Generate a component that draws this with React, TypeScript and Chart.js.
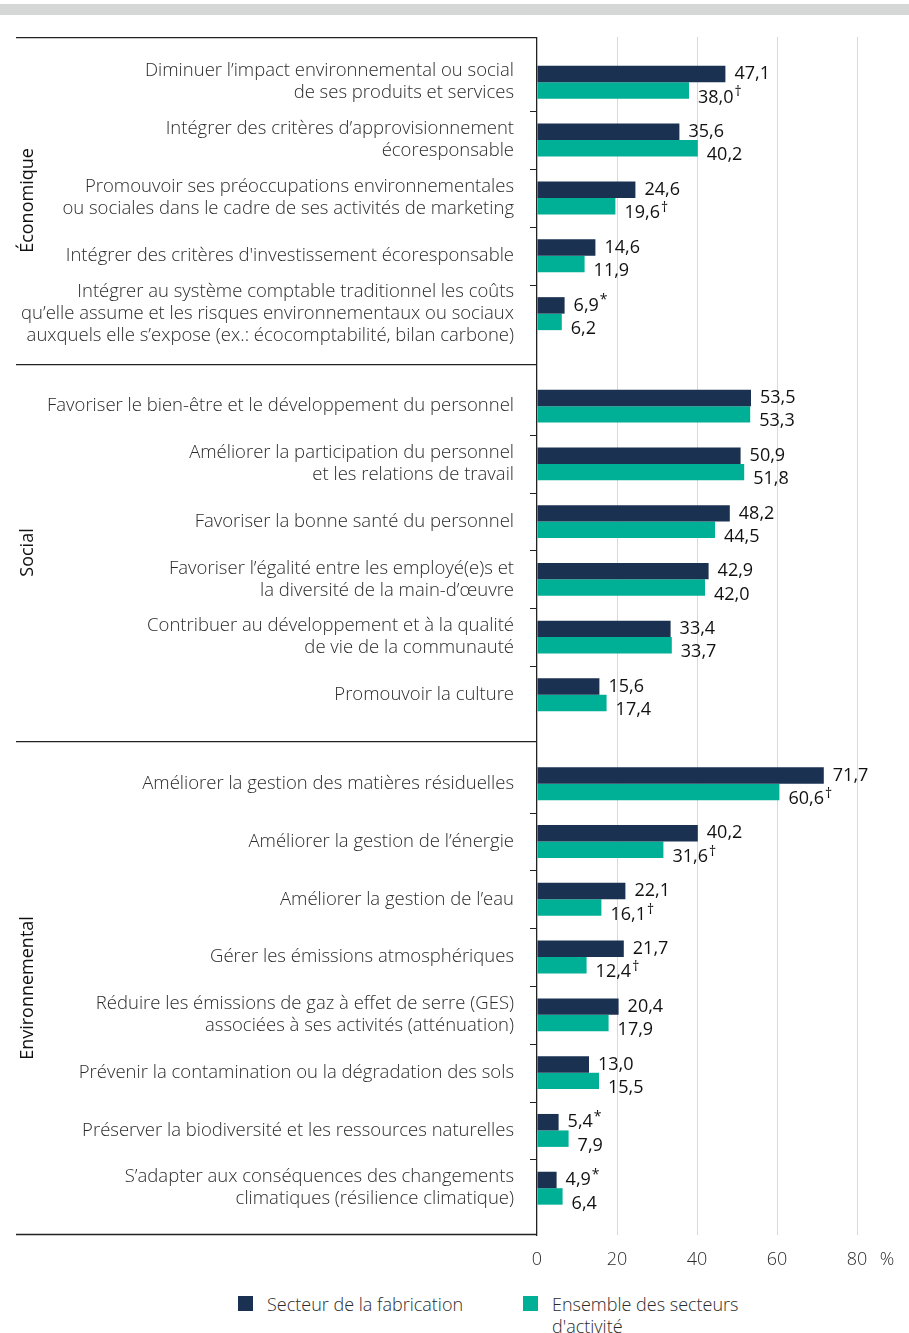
import React, { useEffect, useRef } from 'react';
import { Chart, registerables } from 'chart.js';
Chart.register(...registerables);

const seriesNames = ['Secteur de la fabrication', "Ensemble des secteurs d'activité"];
const seriesColors = ['#1b3152', '#00b096'];

const ecoTitle = 'Économique';
const ecoLabels = [
  ['Diminuer l’impact environnemental ou social', 'de ses produits et services'],
  ['Intégrer des critères d’approvisionnement', 'écoresponsable'],
  ['Promouvoir ses préoccupations environnementales', 'ou sociales dans le cadre de ses activités de marketing'],
  ["Intégrer des critères d'investissement écoresponsable"],
  ['Intégrer au système comptable traditionnel les coûts', 'qu’elle assume et les risques environnementaux ou sociaux', 'auxquels elle s’expose (ex.: écocomptabilité, bilan carbone)'],
];
const ecoFab = [47.1, 35.6, 24.6, 14.6, 6.9];
const ecoAll = [38.0, 40.2, 19.6, 11.9, 6.2];
const ecoFabNotes = ['', '', '', '', '*'];
const ecoAllNotes = ['†', '', '†', '', ''];

const socTitle = 'Social';
const socLabels = [
  ['Favoriser le bien-être et le développement du personnel'],
  ['Améliorer la participation du personnel', 'et les relations de travail'],
  ['Favoriser la bonne santé du personnel'],
  ['Favoriser l’égalité entre les employé(e)s et', 'la diversité de la main-d’œuvre'],
  ['Contribuer au développement et à la qualité', 'de vie de la communauté'],
  ['Promouvoir la culture'],
];
const socFab = [53.5, 50.9, 48.2, 42.9, 33.4, 15.6];
const socAll = [53.3, 51.8, 44.5, 42.0, 33.7, 17.4];
const socFabNotes = ['', '', '', '', '', ''];
const socAllNotes = ['', '', '', '', '', ''];

const envTitle = 'Environnemental';
const envLabels = [
  ['Améliorer la gestion des matières résiduelles'],
  ['Améliorer la gestion de l’énergie'],
  ['Améliorer la gestion de l’eau'],
  ['Gérer les émissions atmosphériques'],
  ['Réduire les émissions de gaz à effet de serre (GES)', 'associées à ses activités (atténuation)'],
  ['Prévenir la contamination ou la dégradation des sols'],
  ['Préserver la biodiversité et les ressources naturelles'],
  ['S’adapter aux conséquences des changements', 'climatiques (résilience climatique)'],
];
const envFab = [71.7, 40.2, 22.1, 21.7, 20.4, 13.0, 5.4, 4.9];
const envAll = [60.6, 31.6, 16.1, 12.4, 17.9, 15.5, 7.9, 6.4];
const envFabNotes = ['', '', '', '', '', '', '*', '*'];
const envAllNotes = ['†', '†', '†', '†', '', '', '', ''];

const xTicks = [0, 20, 40, 60, 80];
const xUnitTick = 87.5;
const xUnitLabel = '%';
const xMax = 90;

const ROW_PX = 57.8;
const AXIS_X = 537;
const X_AXIS_H = 42;
const FONT = "'Open Sans', sans-serif";
const TEXT = '#2b2b2b';

type SectionProps = {
  title: string;
  labels: string[][];
  fab: number[];
  all: number[];
  fabNotes: string[];
  allNotes: string[];
  last: boolean;
  padTop: number;
  padBottom: number;
};

const fmt = (v: number) => v.toFixed(1).replace('.', ',');

function Section({ title, labels, fab, all, fabNotes, allNotes, last, padTop, padBottom }: SectionProps) {
  const ref = useRef<HTMLCanvasElement>(null);
  const n = labels.length;
  const areaH = (n - 1 + padTop + padBottom) * ROW_PX;
  const h = Math.round(areaH + (last ? X_AXIS_H : 0));

  useEffect(() => {
    if (!ref.current) return;
    const notes = [fabNotes, allNotes];
    const deco = {
      id: 'deco',
      afterDraw(chart: any) {
        const { ctx, chartArea } = chart;
        const ys = chart.scales.y;
        ctx.save();
        ctx.strokeStyle = '#222';
        ctx.lineWidth = 1.3;
        ctx.beginPath();
        ctx.moveTo(16, chartArea.top + 0.5);
        ctx.lineTo(chartArea.left, chartArea.top + 0.5);
        if (last) {
          ctx.moveTo(16, chartArea.bottom - 0.5);
          ctx.lineTo(chartArea.left, chartArea.bottom - 0.5);
        }
        ctx.stroke();
        ctx.lineWidth = 1;
        ctx.beginPath();
        for (let i = 0; i < n - 1; i++) {
          const y = Math.round(ys.getPixelForValue(i + 0.5)) + 0.5;
          ctx.moveTo(chartArea.left - 7, y);
          ctx.lineTo(chartArea.left, y);
        }
        ctx.stroke();
        ctx.restore();
      },
      afterDatasetsDraw(chart: any) {
        const { ctx } = chart;
        ctx.save();
        ctx.fillStyle = '#111';
        ctx.textAlign = 'left';
        ctx.textBaseline = 'middle';
        chart.data.datasets.forEach((ds: any, di: number) => {
          const meta = chart.getDatasetMeta(di);
          meta.data.forEach((bar: any, i: number) => {
            const text = fmt(ds.data[i].x);
            const x = bar.x + 9;
            const y = bar.y + (di === 0 ? 0 : 7);
            ctx.font = `400 18px ${FONT}`;
            ctx.fillText(text, x, y);
            const note = notes[di][i];
            if (note) {
              const w = ctx.measureText(text).width;
              ctx.font = `400 14px ${FONT}`;
              ctx.fillText(note, x + w + 1, y - 5);
            }
          });
        });
        ctx.restore();
      },
    };

    const chart = new Chart(ref.current, {
      type: 'bar',
      data: {
        datasets: [
          {
            label: seriesNames[0],
            data: fab.map((v, i) => ({ x: v, y: i })),
            backgroundColor: seriesColors[0],
            categoryPercentage: 0.57,
            barPercentage: 1,
          },
          {
            label: seriesNames[1],
            data: all.map((v, i) => ({ x: v, y: i })),
            backgroundColor: seriesColors[1],
            categoryPercentage: 0.57,
            barPercentage: 1,
          },
        ],
      },
      options: {
        indexAxis: 'y',
        animation: false,
        responsive: true,
        maintainAspectRatio: false,
        layout: { padding: { left: 0, right: 909 - AXIS_X - xMax * 4, top: 0, bottom: 0 } },
        plugins: { legend: { display: false }, tooltip: { enabled: false } },
        scales: {
          y: {
            type: 'linear',
            bounds: 'data',
            offset: false,
            reverse: true,
            min: -padTop,
            max: n - 1 + padBottom,
            afterBuildTicks: (s: any) => {
              s.ticks = labels.map((_, i) => ({ value: i }));
            },
            afterFit: (s: any) => {
              s.width = AXIS_X;
              s.paddingTop = 0;
              s.paddingBottom = 0;
            },
            grid: { display: false, drawTicks: false, offset: false },
            border: { display: true, color: '#222', width: 1.3 },
            ticks: {
              autoSkip: false,
              padding: 23,
              color: TEXT,
              font: { family: FONT, size: 18.5, weight: '300', lineHeight: 1.19 },
              callback: (v: any) => labels[Math.round(v)] as any,
            },
            title: {
              display: true,
              text: title,
              color: '#111',
              font: { family: FONT, size: 18, weight: '400' },
              padding: { top: 17, bottom: 0 },
            },
          },
          x: {
            type: 'linear',
            bounds: 'data',
            offset: false,
            min: 0,
            max: xMax,
            afterBuildTicks: (s: any) => {
              s.ticks = [...xTicks, xUnitTick].map((v) => ({ value: v }));
            },
            afterFit: (s: any) => {
              s.height = last ? X_AXIS_H : 0;
              s.paddingLeft = 0;
              s.paddingRight = 0;
            },
            grid: {
              drawTicks: false,
              color: (c: any) => (c.tick && (c.tick.value === 0 || c.tick.value === xUnitTick) ? 'rgba(0,0,0,0)' : '#d9d9d9'),
              lineWidth: 1,
            },
            border: { display: false },
            ticks: {
              display: last,
              autoSkip: false,
              maxRotation: 0,
              padding: 14,
              color: TEXT,
              font: { family: FONT, size: 18, weight: '300' },
              callback: (v: any) => (v === xUnitTick ? xUnitLabel : String(v)),
            },
          },
        },
      },
      plugins: [deco],
    } as any);
    return () => chart.destroy();
  }, []);

  return (
    <div style={{ position: 'relative', width: 909, height: h }}>
      <canvas ref={ref} />
    </div>
  );
}

export default function App() {
  const legendText = { fontFamily: FONT, fontWeight: 300, fontSize: 18, color: TEXT, lineHeight: '22px' } as const;
  return (
    <div style={{ position: 'absolute', left: 0, top: 0, width: 909, height: 1333, background: '#fff' }}>
      <div style={{ position: 'absolute', left: 0, top: 4, width: 909, height: 11, background: '#d5d6d6' }} />
      <div style={{ position: 'absolute', left: 0, top: 37, width: 909 }}>
        <Section title={ecoTitle} labels={ecoLabels} fab={ecoFab} all={ecoAll} fabNotes={ecoFabNotes} allNotes={ecoAllNotes} last={false} padTop={0.78} padBottom={0.87} />
        <Section title={socTitle} labels={socLabels} fab={socFab} all={socAll} fabNotes={socFabNotes} allNotes={socAllNotes} last={false} padTop={0.73} padBottom={0.8} />
        <Section title={envTitle} labels={envLabels} fab={envFab} all={envAll} fabNotes={envFabNotes} allNotes={envAllNotes} last={true} padTop={0.74} padBottom={0.81} />
      </div>
      <div style={{ position: 'absolute', top: 1296, left: 238, width: 15, height: 15, background: seriesColors[0] }} />
      <div style={{ position: 'absolute', top: 1293, left: 267, ...legendText }}>{seriesNames[0]}</div>
      <div style={{ position: 'absolute', top: 1296, left: 523, width: 15, height: 15, background: seriesColors[1] }} />
      <div style={{ position: 'absolute', top: 1293, left: 552, width: 200, ...legendText }}>{seriesNames[1]}</div>
    </div>
  );
}
